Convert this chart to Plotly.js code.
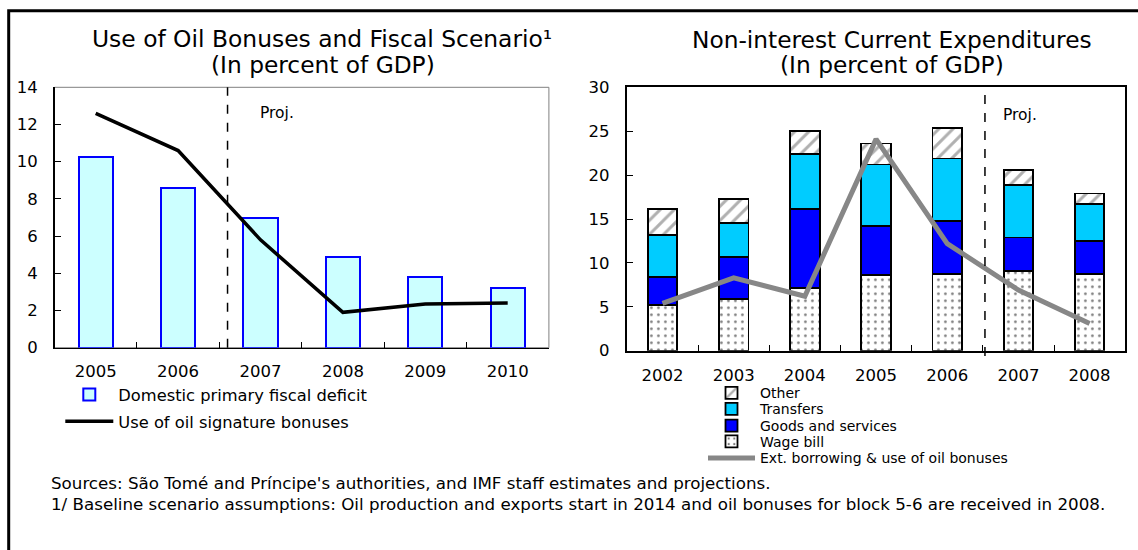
<!DOCTYPE html>
<html><head><meta charset="utf-8">
<script src="https://cdn.plot.ly/plotly-3.0.1.min.js"></script>
<style>html,body{margin:0;padding:0;background:#fff}#chart{width:1138px;height:550px}</style>
</head><body><div id="chart"></div>
<script>
// ---- Data: left panel ----
const leftYears = ['2005', '2006', '2007', '2008', '2009', '2010'];
const domesticDeficit = [10.25, 8.6, 7.0, 4.85, 3.8, 3.2];
const oilBonusUse = [12.6, 10.6, 5.8, 1.9, 2.35, 2.4];

// ---- Data: right panel ----
const rightYears = ['2002', '2003', '2004', '2005', '2006', '2007', '2008'];
const wageBill = [5.2, 5.9, 7.1, 8.6, 8.7, 9.1, 8.7];
const goodsServices = [3.2, 4.8, 9.0, 5.6, 6.1, 3.8, 3.8];
const transfers = [4.8, 3.8, 6.3, 7.0, 7.1, 6.0, 4.2];
const otherExp = [2.9, 2.8, 2.6, 2.4, 3.5, 1.7, 1.2];
const extBorrowing = [5.4, 8.3, 6.2, 24.1, 12.2, 6.9, 3.1];

// ---- Text ----
const leftTitle = 'Use of Oil Bonuses and Fiscal Scenario¹';
const rightTitle = 'Non-interest Current Expenditures';
const subTitle = '(In percent of GDP)';
const projLabel = 'Proj.';
const source1 = "Sources: São Tomé and Príncipe's authorities, and IMF staff estimates and projections.";
const source2 = '1/ Baseline scenario assumptions: Oil production and exports start in 2014 and oil bonuses for block 5-6 are received in 2008.';

const W = 1138, H = 550;
const px = v => v / W;
const py = v => 1 - v / H;
const FONT = 'DejaVu Sans, Liberation Sans, Arial, sans-serif';

const traces = [
  {type: 'bar', name: 'Domestic primary fiscal deficit', x: leftYears, y: domesticDeficit,
   xaxis: 'x', yaxis: 'y', legend: 'legend',
   marker: {color: '#CCFFFF', line: {color: '#0000FF', width: 2}}},
  {type: 'scatter', mode: 'lines', name: 'Use of oil signature bonuses', x: leftYears, y: oilBonusUse,
   xaxis: 'x', yaxis: 'y', legend: 'legend2',
   line: {color: '#000000', width: 3.5}},
  {type: 'bar', name: 'Wage bill', x: rightYears, y: wageBill, xaxis: 'x2', yaxis: 'y2', legend: 'legend6',
   marker: {color: '#FFFFFF', line: {color: '#000', width: 1.8},
            pattern: {shape: '.', fgcolor: '#777777', bgcolor: '#FFFFFF', size: 7, solidity: 0.12}}},
  {type: 'bar', name: 'Goods and services', x: rightYears, y: goodsServices, xaxis: 'x2', yaxis: 'y2', legend: 'legend5',
   marker: {color: '#0000FF', line: {color: '#000', width: 1.8}}},
  {type: 'bar', name: 'Transfers', x: rightYears, y: transfers, xaxis: 'x2', yaxis: 'y2', legend: 'legend4',
   marker: {color: '#00CCFF', line: {color: '#000', width: 1.8}}},
  {type: 'bar', name: 'Other', x: rightYears, y: otherExp, xaxis: 'x2', yaxis: 'y2', legend: 'legend3',
   marker: {color: '#FFFFFF', line: {color: '#000', width: 1.8},
            pattern: {shape: '/', fgcolor: '#B0B0B0', bgcolor: '#FFFFFF', size: 10, solidity: 0.3}}},
  {type: 'scatter', mode: 'lines', name: 'Ext. borrowing & use of oil bonuses', x: rightYears, y: extBorrowing,
   xaxis: 'x2', yaxis: 'y2', legend: 'legend7',
   line: {color: '#878787', width: 5}}
];

function legendAt(xLeft, yCenter, size, itemwidth) {
  return {x: px(xLeft), y: py(yCenter), xanchor: 'left', yanchor: 'middle', xref: 'paper', yref: 'paper',
          bgcolor: 'rgba(0,0,0,0)', borderwidth: 0, itemwidth: itemwidth,
          font: {family: FONT, size: size, color: '#000'}};
}

const axisCommon = {
  showgrid: false, zeroline: false, showline: true, linecolor: '#000',
  ticks: 'inside', ticklen: 6, tickwidth: 1, tickcolor: '#000',
  tickfont: {family: FONT, size: 16.5, color: '#000'}, fixedrange: true
};

const layout = {
  width: W, height: H,
  margin: {l: 0, r: 0, t: 0, b: 0},
  paper_bgcolor: '#FFFFFF', plot_bgcolor: '#FFFFFF',
  font: {family: FONT, color: '#000', size: 16.5},
  barmode: 'stack', bargap: 0.585,
  showlegend: true,
  hovermode: false,
  xaxis: Object.assign({}, axisCommon, {domain: [px(54.5), px(548.9)], type: 'category', anchor: 'y',
         tickson: 'boundaries', linewidth: 1.5, ticklabelstandoff: 8}),
  yaxis: Object.assign({}, axisCommon, {domain: [py(347.7), py(87.3)], range: [0, 14], dtick: 2, anchor: 'x',
         linewidth: 1.5, ticklabelstandoff: 12}),
  xaxis2: Object.assign({}, axisCommon, {domain: [px(626.9), px(1125.2)], type: 'category', anchor: 'y2',
         tickson: 'boundaries', linewidth: 2, mirror: true, ticklabelstandoff: 8}),
  yaxis2: Object.assign({}, axisCommon, {domain: [py(350.7), py(87.3)], range: [0, 30], dtick: 5, anchor: 'x2',
         linewidth: 2, mirror: true, ticklabelstandoff: 12}),
  legend: legendAt(60.3, 395, 16.3, 48),
  legend2: legendAt(60.3, 421.7, 16.3, 48),
  legend3: legendAt(703, 393.3, 14, 47),
  legend4: legendAt(703, 409.3, 14, 47),
  legend5: legendAt(703, 426, 14, 47),
  legend6: legendAt(703, 441.7, 14, 47),
  legend7: legendAt(703, 458.3, 14, 47),
  shapes: [
    // outer frame
    {type: 'rect', xref: 'paper', yref: 'paper', x0: px(8.7), x1: 1.05, y0: -0.05, y1: py(10.7),
     line: {color: '#000', width: 3}, fillcolor: 'rgba(0,0,0,0)', layer: 'above'},
    // left panel thin gray box
    {type: 'rect', xref: 'x domain', yref: 'y domain', x0: 0, x1: 1, y0: 0, y1: 1,
     line: {color: '#808080', width: 1}, fillcolor: 'rgba(0,0,0,0)', layer: 'below'},
    // projection dividers
    {type: 'line', xref: 'x', yref: 'y domain', x0: 1.6, x1: 1.6, y0: 0, y1: 1,
     line: {color: '#000', width: 1.5, dash: 'dash'}},
    {type: 'line', xref: 'x2', yref: 'y2 domain', x0: 4.53, x1: 4.53, y0: -0.02, y1: 1,
     line: {color: '#000', width: 1.5, dash: 'dash'}}
  ],
  annotations: [
    {text: leftTitle, xref: 'paper', yref: 'paper', x: px(322), y: py(39), xanchor: 'center', yanchor: 'middle',
     showarrow: false, font: {family: FONT, size: 23.4, color: '#000'}},
    {text: subTitle, xref: 'paper', yref: 'paper', x: px(322.6), y: py(65), xanchor: 'center', yanchor: 'middle',
     showarrow: false, font: {family: FONT, size: 23.3, color: '#000'}},
    {text: rightTitle, xref: 'paper', yref: 'paper', x: px(891.6), y: py(39), xanchor: 'center', yanchor: 'middle',
     showarrow: false, font: {family: FONT, size: 23.3, color: '#000'}},
    {text: subTitle, xref: 'paper', yref: 'paper', x: px(891.5), y: py(65), xanchor: 'center', yanchor: 'middle',
     showarrow: false, font: {family: FONT, size: 23.3, color: '#000'}},
    {text: projLabel, xref: 'paper', yref: 'paper', x: px(258), y: py(113), xanchor: 'left', yanchor: 'middle',
     showarrow: false, font: {family: FONT, size: 15.5, color: '#000'}},
    {text: projLabel, xref: 'paper', yref: 'paper', x: px(1001), y: py(115), xanchor: 'left', yanchor: 'middle',
     showarrow: false, font: {family: FONT, size: 15.5, color: '#000'}},
    {text: source1, xref: 'paper', yref: 'paper', x: px(49.3), y: py(483), xanchor: 'left', yanchor: 'middle',
     showarrow: false, font: {family: FONT, size: 16.7, color: '#000'}},
    {text: source2, xref: 'paper', yref: 'paper', x: px(49.3), y: py(504), xanchor: 'left', yanchor: 'middle',
     showarrow: false, font: {family: FONT, size: 16.7, color: '#000'}}
  ]
};

Plotly.newPlot('chart', traces, layout, {staticPlot: true, displayModeBar: false});
</script>
</body></html>
